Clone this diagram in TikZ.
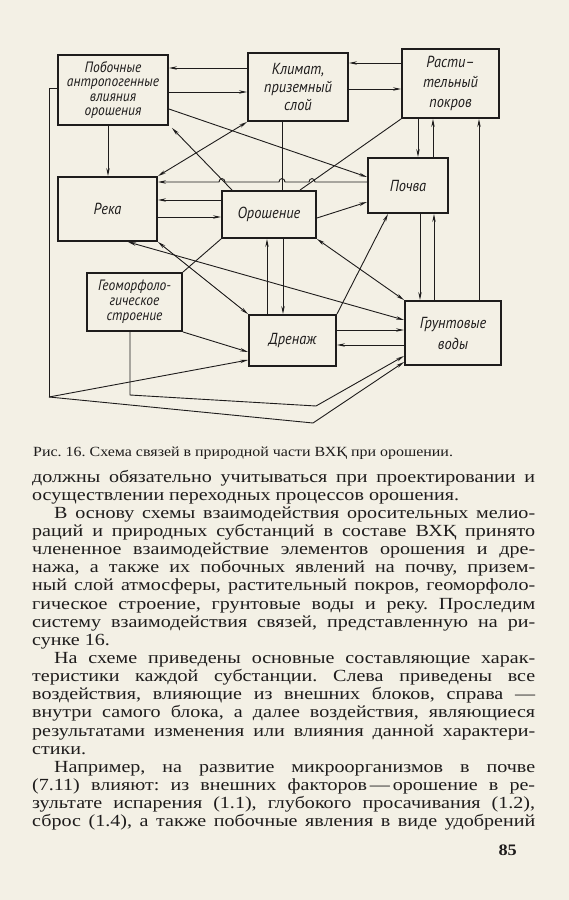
\documentclass[tikz,border=0pt]{standalone}
\usepackage{fontspec}
\setmainfont{Liberation Serif}[FakeStretch=1.14]
\newfontfamily\bodyfont{Liberation Serif}[FakeStretch=1.18]
\newfontfamily\lblfont{PT Sans}[FakeStretch=0.9]
\usetikzlibrary{arrows.meta}
\definecolor{ink}{RGB}{30,28,28}
\definecolor{paper}{RGB}{243,240,229}
\newcommand{\jl}[1]{\hbox to 503pt{#1}}
\newcommand{\nl}[1]{\hbox{#1}}
\newcommand{\ind}{\hspace*{22pt}}
\frenchspacing
\tikzset{
  box/.style={draw=ink, line width=1.9pt, align=center, inner sep=0pt, text=ink,
    font=\lblfont\itshape\fontsize{16}{14.5}\selectfont},
  ln/.style={draw=ink, line width=0.9pt},
  arr/.style={ln, -{Stealth[length=8pt,width=3.4pt]}},
  darr/.style={ln, {Stealth[length=8pt,width=3.4pt]}-{Stealth[length=8pt,width=3.4pt]}},
}
\begin{document}
\begin{tikzpicture}[x=1pt,y=-1pt]
\fill[paper] (0,0) rectangle (569,900);
\useasboundingbox (0,0) rectangle (569,900);

% boxes
\node[box, minimum width=110pt, minimum height=70pt, font=\lblfont\itshape\fontsize{15}{14.5}\selectfont] (pob) at (113,90) {Побочные\\антропогенные\\влияния\\орошения};
\node[box, minimum width=100pt, minimum height=68pt, font=\lblfont\itshape\fontsize{16}{18}\selectfont] (klim) at (298,87) {Климат,\\приземный\\слой};
\node[box, minimum width=97pt, minimum height=69pt, font=\lblfont\itshape\fontsize{16}{20}\selectfont] (rast) at (450.5,83.5) {Расти–\\тельный\\покров};
\node[box, minimum width=99pt, minimum height=64pt] (reka) at (107.5,209) {Река};
\node[box, minimum width=94pt, minimum height=47pt] (orosh) at (269,214.5) {Орошение};
\node[box, minimum width=80pt, minimum height=55pt] (pochva) at (408,185.5) {Почва};
\node[box, minimum width=95pt, minimum height=58pt, font=\lblfont\itshape\fontsize{15}{15}\selectfont] (geo) at (134.5,302) {Геоморфоло-\\гическое\\строение};
\node[box, minimum width=87pt, minimum height=51pt] (dren) at (292.5,340.5) {Дренаж};
\node[box, minimum width=96pt, minimum height=64pt, font=\lblfont\itshape\fontsize{16}{21}\selectfont] (grunt) at (453,333) {Грунтовые\\воды};

% top row links
\draw[arr] (klim.west |- 0,68) -- (pob.east |- 0,68);
\draw[arr] (pob.east |- 0,92) -- (klim.west |- 0,92);
\draw[arr] (rast.west |- 0,63) -- (klim.east |- 0,63);
\draw[arr] (klim.east |- 0,89) -- (rast.west |- 0,89);
\draw[arr] (108,0 |- pob.south) -- (108,0 |- reka.north);
\draw[arr] (pob.east |- 0,109) -- (pochva.west |- 0,177);
\draw[arr] (232,0 |- orosh.north) -- ([shift={(3,2)}]pob.south east);
\draw[darr] (reka.north east) -- (klim.south west);

% Почва -> Река with hops
\draw[arr] (pochva.west |- 0,182) -- (315,182) .. controls (315,177.5) and (309,177.5) .. (309,182)
  -- (285,182) .. controls (285,177.5) and (279,177.5) .. (279,182)
  -- (225,182) .. controls (225,177.5) and (219,177.5) .. (219,182)
  -- (reka.east |- 0,182);

\draw[arr] (orosh.west |- 0,200) -- (reka.east |- 0,200);
\draw[arr] (reka.east |- 0,217) -- (orosh.west |- 0,217);
\draw[ln] (282,0 |- klim.south) -- (282,0 |- orosh.north);
\draw[ln] (rast.south west) -- (300,0 |- orosh.north);
\draw[arr] (orosh.east |- 0,218) -- (pochva.west |- 0,202);

% verticals on the right
\draw[arr] (418,0 |- rast.south) -- (418,0 |- pochva.north);
\draw[arr] (433,0 |- pochva.north) -- (433,0 |- rast.south);
\draw[arr] (479,0 |- grunt.north) -- (479,0 |- rast.south);
\draw[arr] (420,0 |- pochva.south) -- (420,0 |- grunt.north);
\draw[arr] (434,0 |- grunt.north) -- (434,0 |- pochva.south);

% diagonals
\draw[darr] (orosh.south east) -- (grunt.north west);
\draw[darr] (reka.south east) -- (dren.north west);
\draw[darr] (128,0 |- reka.south) -- (grunt.west |- 0,320);
\draw[ln] (orosh.south west) -- (geo.north east);
\draw[arr] (geo.south east) -- (dren.west |- 0,352);
\draw[arr] (dren.north east) -- (388,0 |- pochva.south);

% Орошение <-> Дренаж, Дренаж <-> Грунтовые воды
\draw[arr] (283,0 |- orosh.south) -- (283,0 |- dren.north);
\draw[arr] (267,0 |- dren.north) -- (267,0 |- orosh.south);
\draw[arr] (dren.east |- 0,330) -- (grunt.west |- 0,330);
\draw[arr] (grunt.west |- 0,345) -- (dren.east |- 0,345);

% long links at the bottom
\coordinate (pj) at (49,397);
\draw[ln] (pob.west |- 0,88) -- (49,88) -- (pj);
\draw[arr] (pj) -- (dren.west |- 0,360);
\draw[arr] (pj) -- (313,423) -- (grunt.west |- 0,362);
\draw[arr] (130,0 |- geo.south) -- (130,395) -- (316,406) -- (grunt.west |- 0,356);

% caption
\node[anchor=base west, inner sep=0pt, text=ink, font=\fontsize{14}{15}\selectfont] (cap) at (33,456)
  {Рис. 16. Схема связей в природной части ВХҚ при орошении.};

% body text
\node[anchor=base west, inner sep=0pt, text=ink] (body) at (32,482) {\parbox[t]{503pt}{\bodyfont\fontsize{17}{18.15}\selectfont\frenchspacing
\jl{должны обязательно учитываться при проектировании и}
\nl{осуществлении переходных процессов орошения.}
\jl{\ind В основу схемы взаимодействия оросительных мелио-}
\jl{раций и природных субстанций в составе ВХҚ принято}
\jl{члененное взаимодействие элементов орошения и дре-}
\jl{нажа, а также их побочных явлений на почву, призем-}
\jl{ный слой атмосферы, растительный покров, геоморфоло-}
\jl{гическое строение, грунтовые воды и реку. Проследим}
\jl{систему взаимодействия связей, представленную на ри-}
\nl{сунке 16.}
\jl{\ind На схеме приведены основные составляющие харак-}
\jl{теристики каждой субстанции. Слева приведены все}
\jl{воздействия, влияющие из внешних блоков, справа —}
\jl{внутри самого блока, а далее воздействия, являющиеся}
\jl{результатами изменения или влияния данной характери-}
\nl{стики.}
\jl{\ind Например, на развитие микроорганизмов в почве}
\jl{(7.11) влияют: из внешних факторов\,—\,орошение в ре-}
\jl{зультате испарения (1.1), глубокого просачивания (1.2),}
\jl{сброс (1.4), а также побочные явления в виде удобрений}
}};

% page number
\node[anchor=base east, inner sep=0pt, text=ink, font=\bfseries\fontsize{16}{16}\selectfont] (pnum) at (517,855) {85};
\end{tikzpicture}
\end{document}
